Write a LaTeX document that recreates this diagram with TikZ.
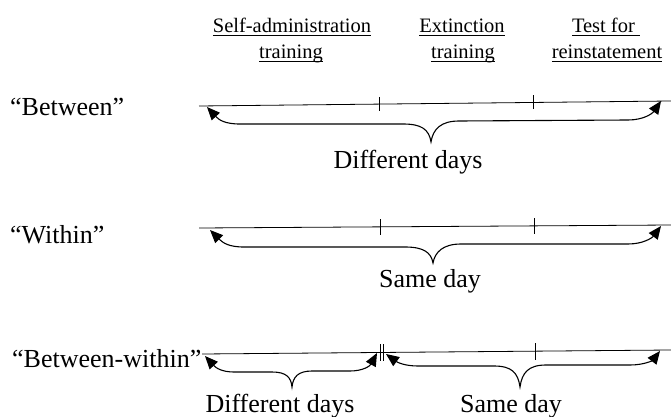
\documentclass[tikz,border=0pt]{standalone}
\usepackage{fontspec}
\setmainfont{Liberation Serif}
\usetikzlibrary{arrows.meta}
\newcommand{\hdul}[1]{\leavevmode\setbox0=\hbox{#1}\rlap{\rule[-3.2pt]{\wd0}{0.75pt}}\box0}
\begin{document}
\begin{tikzpicture}[x=1pt,y=-1pt,
  head/.style={font=\fontsize{20.5}{24}\selectfont, anchor=base, inner sep=0pt},
  lbl/.style={font=\fontsize{26}{30}\selectfont, anchor=base west, inner sep=0pt},
  captxt/.style={font=\fontsize{26}{30}\selectfont, anchor=base, inner sep=0pt},
  tl/.style={line width=0.8pt},
  tickmark/.style={line width=0.8pt},
  brace/.style={line width=1.1pt, {Triangle[length=13pt,width=11pt]}-{Triangle[length=13pt,width=11pt]}}]
\useasboundingbox (0,0) rectangle (671,417);

% headers
\node[head] (h1a) at (292,33) {\hdul{Self-administration}};
\node[head] (h1b) at (291,59) {\hdul{training}};
\node[head] (h2a) at (462,33) {\hdul{Extinction}};
\node[head] (h2b) at (463,59) {\hdul{training}};
\node[head] (h3a) at (606,33) {\hdul{Test for\ }};
\node[head] (h3b) at (607,59) {\hdul{reinstatement}};

% row labels
\node[lbl] (r1) at (10,116) {``Between''};
\node[lbl] (r2) at (10,243) {``Within''};
\node[lbl] (r3) at (12,367) {``Between-within''};

% timelines
\coordinate (a0) at (199,106); \coordinate (a1) at (671,101);
\draw[tl] (a0) -- (a1);
\draw[tickmark] (379,97) -- (379,111);
\draw[tickmark] (533,95.5) -- (533,109.5);

\coordinate (b0) at (199,228); \coordinate (b1) at (671,225);
\draw[tl] (b0) -- (b1);
\draw[tickmark] (380,219) -- (380,235);
\draw[tickmark] (534,218) -- (534,234);

\coordinate (c0) at (202,354); \coordinate (c1) at (671,350);
\draw[tl] (c0) -- (c1);
\draw[tickmark] (380,344) -- (380,361);
\draw[tickmark] (383,344) -- (383,361);
\draw[tickmark] (535,343) -- (535,360);

% braces row 1
\coordinate (p1a) at (207,107); \coordinate (p1b) at (661,101);
\draw[brace] (p1a) .. controls (219,120) and (225,124) .. (240,124) -- (403,124)
  .. controls (421,124) and (429,129) .. (431,142)
  .. controls (433,129) and (441,121) .. (459,121) -- (628,120)
  .. controls (643,120) and (652,114) .. (p1b);

% braces row 2
\coordinate (p2a) at (210,230); \coordinate (p2b) at (661,226);
\draw[brace] (p2a) .. controls (223,243) and (229,247) .. (244,247) -- (405,247)
  .. controls (423,247) and (431,252) .. (433,263)
  .. controls (435,252) and (443,244) .. (461,244) -- (628,244)
  .. controls (643,244) and (652,238) .. (p2b);

% braces row 3
\coordinate (p3a) at (205,356); \coordinate (p3b) at (377,353);
\draw[brace] (p3a) .. controls (216,368) and (222,372) .. (234,372) -- (272,372)
  .. controls (286,372) and (291,377) .. (292,387)
  .. controls (293,377) and (298,371) .. (312,371) -- (350,371)
  .. controls (363,371) and (370,366) .. (p3b);

\coordinate (p4a) at (386,354); \coordinate (p4b) at (660,351);
\draw[brace] (p4a) .. controls (397,362) and (404,366) .. (418,366) -- (494,366)
  .. controls (512,366) and (518,373) .. (520,387)
  .. controls (522,373) and (528,365) .. (546,365) -- (630,365)
  .. controls (645,365) and (653,360) .. (p4b);

% captions
\node[captxt] (k1) at (408,168) {Different days};
\node[captxt] (k2) at (430,287) {Same day};
\node[captxt] (k3) at (280,412) {Different days};
\node[captxt] (k4) at (511,412) {Same day};
\end{tikzpicture}
\end{document}
